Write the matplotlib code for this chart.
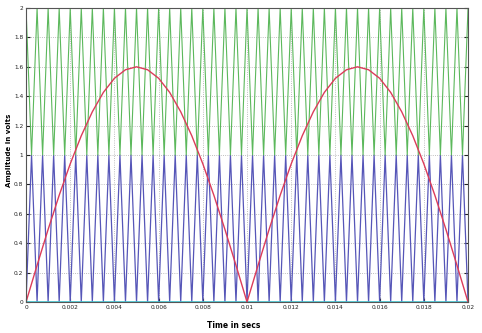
import numpy as np
import matplotlib
matplotlib.use("Agg")
import matplotlib.pyplot as plt

# triangular carriers: vertices every 0.00025 s over 0.02 s (40 cycles)
carrier_t = np.arange(81) * 0.00025
lower_carrier = [0, 1] * 40 + [0]
upper_carrier = [2, 1] * 40 + [2]

# rectified sine reference, sampled every 0.0005 s
ref_t = np.arange(41) * 0.0005
ref_half = [0.0, 0.250, 0.494, 0.726, 0.940, 1.131, 1.294, 1.426, 1.522, 1.580,
            1.6, 1.580, 1.522, 1.426, 1.294, 1.131, 0.940, 0.726, 0.494, 0.250]
reference = ref_half + ref_half + [0.0]

base_t = [0, 0.02]
base_v = [0, 0]

x_ticks = [0, 0.002, 0.004, 0.006, 0.008, 0.01, 0.012, 0.014, 0.016, 0.018, 0.02]
x_labels = ["0", "0.002", "0.004", "0.006", "0.008", "0.01", "0.012", "0.014",
            "0.016", "0.018", "0.02"]
y_ticks = [0, 0.2, 0.4, 0.6, 0.8, 1, 1.2, 1.4, 1.6, 1.8, 2]
y_labels = ["0", "0.2", "0.4", "0.6", "0.8", "1", "1.2", "1.4", "1.6", "1.8", "2"]

fig = plt.figure(figsize=(4.82, 3.33), dpi=100)
ax = fig.add_axes([0.054, 0.093, 0.917, 0.883])

ax.plot(carrier_t, lower_carrier, color="#5656b8", lw=0.9)
ax.plot(carrier_t, upper_carrier, color="#5cb85c", lw=0.8)
ax.plot(base_t, base_v, color="#40c4d0", lw=1.2)
ax.plot(ref_t, reference, color="#dc3c5a", lw=1.0)

ax.set_xlim(0, 0.02)
ax.set_ylim(0, 2)
ax.set_xticks(x_ticks)
ax.set_xticklabels(x_labels)
ax.set_yticks(y_ticks)
ax.set_yticklabels(y_labels)
ax.tick_params(direction="in", length=3, width=0.8, labelsize=4.2,
               top=False, right=True, pad=2, colors="#222222")
ax.grid(True, color="#aaaaaa", linestyle=":", linewidth=0.6)
for s in ax.spines.values():
    s.set_color("#555555")
    s.set_linewidth(0.8)

fig.text(0.018, 0.55, "Amplitude in volts", rotation=90, fontsize=5,
         fontweight="bold", ha="center", va="center")
fig.text(0.43, 0.022, "Time in secs", fontsize=5.5, fontweight="bold",
         ha="left", va="center")

fig.savefig("out.png", dpi=100)
